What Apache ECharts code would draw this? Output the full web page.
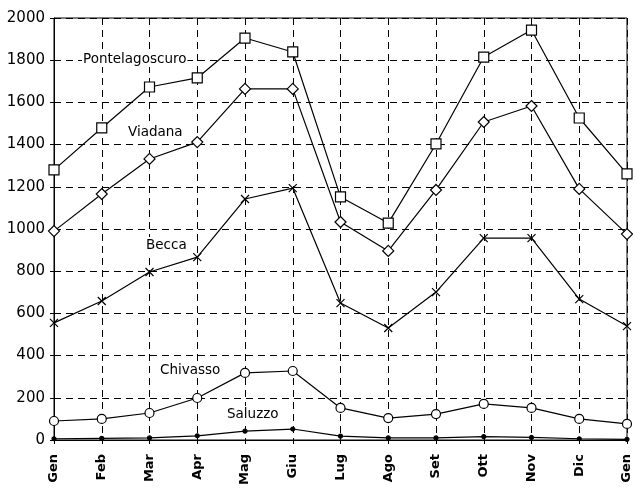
<!DOCTYPE html>
<html>
<head>
<meta charset="utf-8">
<script src="https://cdn.jsdelivr.net/npm/echarts@6/dist/echarts.min.js"></script>
<style>
html,body{margin:0;padding:0;background:#fff;}
#chart{width:638px;height:490px;}
</style>
</head>
<body>
<div id="chart"></div>
<script>
var mesi = ['Gen','Feb','Mar','Apr','Mag','Giu','Lug','Ago','Set','Ott','Nov','Dic','Gen'];
var pontelagoscuro = [1280,1479,1673,1716,1905,1839,1152,1028,1403,1815,1943,1526,1261];
var viadana = [990,1166,1332,1412,1664,1664,1033,896,1185,1507,1583,1190,976];
var becca = [555,659,796,867,1142,1194,649,531,701,957,957,668,540];
var chivasso = [90,100,128,199,318,327,152,104,123,171,152,100,76];
var saluzzo = [6,8,10,20,42,52,18,10,10,16,12,6,3];

var chart = echarts.init(document.getElementById('chart'));
var font = 'DejaVu Sans';

function serie(name, data, symbol, size, fill) {
    return {
        name: name,
        type: 'line',
        data: data,
        symbol: symbol,
        symbolSize: size,
        showAllSymbol: true,
        animation: false,
        lineStyle: {color: '#000', width: 1.2},
        itemStyle: {color: fill, borderColor: '#000', borderWidth: 1.2},
        emphasis: {disabled: true}
    };
}

function etichetta(txt, x, y) {
    return {
        type: 'text', left: x, top: y, z: 100,
        style: {text: txt, font: '13.5px "' + font + '"', fill: '#000',
                backgroundColor: '#fff', padding: [1, 1]}
    };
}

var option = {
    backgroundColor: '#fff',
    grid: {left: 54, top: 18, right: 11, bottom: 50, show: true,
           borderColor: '#000', borderWidth: 1},
    xAxis: {
        type: 'category',
        data: mesi,
        boundaryGap: false,
        axisLine: {lineStyle: {color: '#000', width: 1}},
        axisTick: {show: true, length: 4, alignWithLabel: true, lineStyle: {color: '#000'}},
        axisLabel: {rotate: 90, interval: 0, color: '#000', fontFamily: font,
                    fontSize: 13, fontWeight: 'bold', margin: 14},
        splitLine: {show: true, interval: 0,
                    lineStyle: {color: '#000', type: [7, 5], width: 1}}
    },
    yAxis: {
        type: 'value',
        min: 0, max: 2000, interval: 200,
        axisLine: {show: true, lineStyle: {color: '#000', width: 1}},
        axisTick: {show: true, length: 4, lineStyle: {color: '#000'}},
        axisLabel: {color: '#000', fontFamily: font, fontSize: 15, margin: 9,
                    formatter: function (v) { return String(v); }},
        splitLine: {show: true, lineStyle: {color: '#000', type: [7, 5], width: 1}}
    },
    series: [
        serie('Pontelagoscuro', pontelagoscuro, 'rect', 10, '#fff'),
        serie('Viadana', viadana, 'diamond', 11, '#fff'),
        serie('Becca', becca, 'path://M0,0L10,10M10,0L0,10', 8, 'none'),
        serie('Chivasso', chivasso, 'circle', 9, '#fff'),
        serie('Saluzzo', saluzzo, 'circle', 4, '#000')
    ],
    graphic: [
        etichetta('Pontelagoscuro', 82, 51),
        etichetta('Viadana', 127, 124),
        etichetta('Becca', 145, 237),
        etichetta('Chivasso', 159, 362),
        etichetta('Saluzzo', 226, 406)
    ]
};
chart.setOption(option);
</script>
</body>
</html>
